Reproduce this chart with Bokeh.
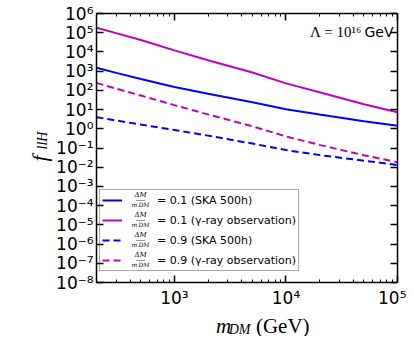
import math
from bokeh.plotting import figure
from bokeh.layouts import row, column
from bokeh.models import (Range1d, FixedTicker, LogAxis, CustomJSTickFormatter,
                          Legend, LegendItem, Label)
from bokeh.core.properties import value
from bokeh.embed import file_html
from bokeh.resources import INLINE

# ---------------- data ----------------
m_dm = [200, 300, 500, 1000, 2000, 5000, 10000, 20000, 50000, 100000]
f_ska_01 = [1500, 810, 390, 150, 66, 24, 10.5, 5.5, 2.5, 1.45]
f_gamma_01 = [1.8e5, 9.5e4, 4.2e4, 1.2e4, 3.7e3, 8.5e2, 2.3e2, 80, 19, 7.2]
f_ska_09 = [4.0, 2.7, 1.66, 0.87, 0.44, 0.17, 0.078, 0.043, 0.022, 0.013]
f_gamma_09 = [245, 123, 54, 17, 5.6, 1.35, 0.40, 0.145, 0.042, 0.018]

series_labels = ["= 0.1 (SKA 500h)", "= 0.1 (\u03b3-ray observation)",
                 "= 0.9 (SKA 500h)", "= 0.9 (\u03b3-ray observation)"]

x_major_ticks = [1e3, 1e4, 1e5]
x_minor_ticks = [k * 10 ** d for d in (2, 3, 4) for k in range(2, 10)]
y_major_ticks = [10.0 ** k for k in range(-8, 7)]

X_START, X_END = 200, 1e5
Y_START, Y_END = 1e-8, 1e6

# ---------------- layout geometry (page pixels) ----------------
TOTAL_W, TOTAL_H = 406, 336
YLAB_W = 53                     # left strip holding the y-axis title
MAIN_H = 310                    # main figure height
FRAME_L, FRAME_B = 96, 283      # frame left / bottom in page pixels

main_w = TOTAL_W - YLAB_W

p = figure(width=main_w, height=MAIN_H, x_axis_type="log", y_axis_type="log",
           x_range=Range1d(X_START, X_END), y_range=Range1d(Y_START, Y_END),
           output_backend="svg", toolbar_location=None,
           min_border_left=FRAME_L - YLAB_W, min_border_right=9,
           min_border_top=13, min_border_bottom=MAIN_H - FRAME_B)
p.grid.visible = False
p.outline_line_color = "black"
p.background_fill_color = "white"
p.border_fill_color = "white"

BLUE = "#0000ff"
MAG = "#bf00bf"

r1 = p.line(m_dm, f_ska_01, line_color=BLUE, line_width=2)
r2 = p.line(m_dm, f_gamma_01, line_color=MAG, line_width=2)
r3 = p.line(m_dm, f_ska_09, line_color=BLUE, line_width=2, line_dash="7 4")
r4 = p.line(m_dm, f_gamma_09, line_color=MAG, line_width=2, line_dash="7 4")

sup_code = """
const e = Math.round(Math.log10(tick));
const sup = {'0':'\u2070','1':'\u00b9','2':'\u00b2','3':'\u00b3','4':'\u2074',
             '5':'\u2075','6':'\u2076','7':'\u2077','8':'\u2078','9':'\u2079','-':'\u207b'};
return '10' + String(e).split('').map(c => sup[c]).join('');
"""
fmt = CustomJSTickFormatter(code=sup_code)
blank_fmt = CustomJSTickFormatter(code="return '';")
xt = FixedTicker(ticks=x_major_ticks, minor_ticks=x_minor_ticks)
yt = FixedTicker(ticks=y_major_ticks, minor_ticks=[])


def style_axis(ax, show_labels, standoff=5):
    ax.axis_line_color = "black"
    ax.axis_line_width = 1.5
    ax.major_tick_in = 7
    ax.major_tick_out = 0
    ax.minor_tick_in = 3
    ax.minor_tick_out = 0
    ax.major_tick_line_color = "black"
    ax.major_tick_line_width = 1.5
    ax.minor_tick_line_color = "black"
    ax.minor_tick_line_width = 1
    if show_labels:
        ax.formatter = fmt
        ax.major_label_text_font = "DejaVu Sans"
        ax.major_label_text_font_size = "17px"
        ax.major_label_text_color = "black"
        ax.major_label_standoff = standoff
    else:
        ax.formatter = blank_fmt
        ax.major_label_text_font_size = "1px"
        ax.major_label_standoff = 0


p.xaxis.ticker = xt
p.yaxis.ticker = yt
style_axis(p.xaxis[0], True, 5)
style_axis(p.yaxis[0], True, 3)

top_ax = LogAxis(ticker=xt)
right_ax = LogAxis(ticker=yt)
style_axis(top_ax, False)
style_axis(right_ax, False)
p.add_layout(top_ax, "above")
p.add_layout(right_ax, "right")

# ---------------- legend ----------------
legend = Legend(items=[LegendItem(label=series_labels[i], renderers=[r])
                       for i, r in enumerate([r1, r2, r3, r4])],
                location=(3, 11), margin=0, padding=2, spacing=4,
                label_height=16, glyph_height=16, glyph_width=20,
                label_standoff=35, label_text_font="DejaVu Sans",
                label_text_font_size="11px", label_text_color="black",
                border_line_color="#555555", border_line_width=1.5,
                background_fill_alpha=0.0)
p.add_layout(legend, "center")


def flabel(px, py, text, **kw):
    """Label inside the frame, given in page pixels (converted to frame px)."""
    opts = dict(text_color="black", level="overlay")
    opts.update(kw)
    p.add_layout(Label(x=px - FRAME_L, y=FRAME_B - py, x_units="screen",
                       y_units="screen", text=text, **opts))


# fraction  ΔM / m_DM  drawn next to each legend entry
row_centers = [200, 220, 240, 260]
for rc in row_centers:
    flabel(140, rc - 1, "\u0394M", text_font="DejaVu Serif",
           text_font_style="italic", text_font_size="7px",
           text_align="center", text_baseline="bottom")
    flabel(140, rc, "\u2500\u2500\u2500", text_font="DejaVu Sans",
           text_font_size="5px", text_align="center", text_baseline="middle")
    flabel(140, rc + 1, "m\u2009DM", text_font="DejaVu Serif",
           text_font_style="italic", text_font_size="6px",
           text_align="center", text_baseline="top")

# ---------------- Λ annotation ----------------
flabel(361, 32, "\u039b = 10\u00b9\u2076", text_font="Liberation Serif",
       text_font_size="15px", text_align="right", text_baseline="alphabetic")
flabel(364, 32, "GeV", text_font="DejaVu Sans", text_font_size="14px",
       text_align="left", text_baseline="alphabetic")


# ---------------- axis titles in thin side figures ----------------
def blank_fig(w, h):
    f = figure(width=w, height=h, x_range=Range1d(0, w), y_range=Range1d(0, h),
               output_backend="svg", toolbar_location=None, min_border=0)
    f.axis.visible = False
    f.grid.visible = False
    f.outline_line_color = None
    f.background_fill_color = "white"
    f.border_fill_color = "white"
    return f


XLAB_H = TOTAL_H - MAIN_H
xl = blank_fig(main_w, XLAB_H)


def xtext(px, py, t, size, style):
    xl.text(x=[px - YLAB_W], y=[TOTAL_H - py], text=[t],
            text_font=value("Liberation Serif"), text_font_style=style,
            text_font_size=size, text_align="left",
            text_baseline="alphabetic", text_color="black")


xtext(193, 325, "m", "21px", "italic")
xtext(208, 329, "DM", "14px", "italic")
xtext(240, 325, "(GeV)", "21px", "normal")

yl = blank_fig(YLAB_W, TOTAL_H)


def ytext(px, py, t, size):
    yl.text(x=[px], y=[TOTAL_H - py], text=[t], angle=math.pi / 2,
            text_font=value("Liberation Serif"), text_font_style="italic",
            text_font_size=size, text_align="center",
            text_baseline="middle", text_color="black")


ytext(39, 158, "f", "22px")
ytext(42, 140, "llH", "14px")

layout = row(yl, column(p, xl, spacing=0), spacing=0)

open("out.html", "w").write(file_html(layout, INLINE))
